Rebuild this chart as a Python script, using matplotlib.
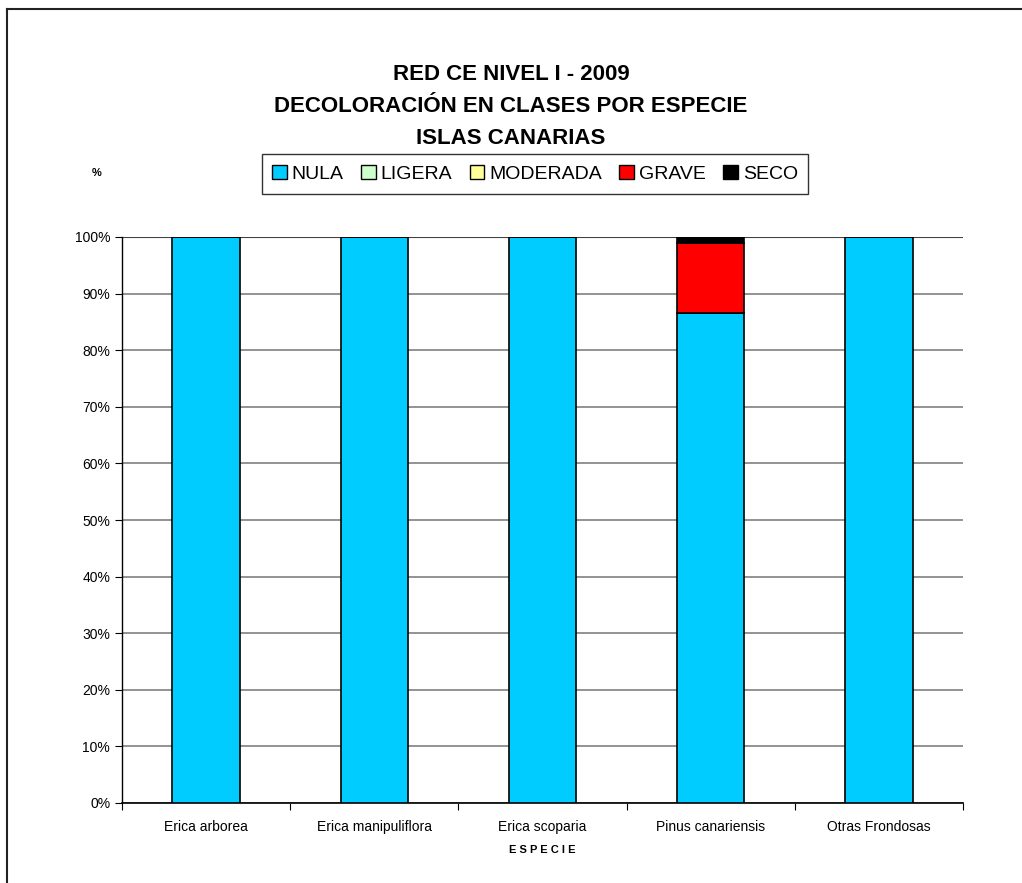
import matplotlib
matplotlib.use("Agg")
import matplotlib.pyplot as plt
from matplotlib.lines import Line2D
import numpy as np

plt.rcParams['font.family'] = ['Liberation Sans', 'DejaVu Sans']

categories = ["Erica arborea", "Erica manipuliflora", "Erica scoparia", "Pinus canariensis", "Otras Frondosas"]
series_names = ["NULA", "LIGERA", "MODERADA", "GRAVE", "SECO"]
nula = [100.0, 100.0, 100.0, 86.6, 100.0]
ligera = [0.0, 0.0, 0.0, 0.0, 0.0]
moderada = [0.0, 0.0, 0.0, 0.0, 0.0]
grave = [0.0, 0.0, 0.0, 12.3, 0.0]
seco = [0.0, 0.0, 0.0, 1.1, 0.0]
colors = ["#00CCFF", "#CCFFCC", "#FFFF99", "#FF0000", "#000000"]
yticks = [0, 10, 20, 30, 40, 50, 60, 70, 80, 90, 100]

fig = plt.figure(figsize=(10.22, 8.83), dpi=100)
ax = fig.add_axes([122/1022, 1-803/883, (963-122)/1022, (803-237)/883])

x = np.arange(len(categories))
bottom = np.zeros(len(categories))
handles = []
for name, vals, c in zip(series_names, [nula, ligera, moderada, grave, seco], colors):
    vals = np.array(vals)
    h = ax.bar(x, vals, width=0.4, bottom=bottom, color=c, edgecolor="black", linewidth=1.2, label=name, zorder=3)
    handles.append(h)
    bottom += vals

ax.set_xlim(-0.5, len(categories) - 0.5)
ax.set_ylim(0, 100)
ax.set_yticks(yticks)
ax.set_yticklabels([f"{v}%" for v in yticks], fontsize=10)
ax.yaxis.grid(True, color="#808080", linewidth=1.2, zorder=0)
ax.set_axisbelow(True)
ax.set_xticks(np.arange(-0.5, len(categories) + 0.5, 1.0), minor=False)
ax.set_xticklabels([])
ax.set_xticks(x, minor=True)
ax.set_xticklabels(categories, minor=True, fontsize=10)
ax.tick_params(axis='x', which='minor', length=0, pad=12)
ax.tick_params(axis='x', which='major', length=5, direction='out')
ax.tick_params(axis='y', length=5, direction='out')
for s in ['top', 'right']:
    ax.spines[s].set_visible(False)
ax.spines['left'].set_linewidth(1.0)
ax.spines['bottom'].set_linewidth(1.2)
ax.axhline(100, color="#404040", linewidth=1.5, zorder=1)

ax.set_xlabel("E S P E C I E", fontsize=8, fontweight='bold', labelpad=8)

fig.text(0.5, 1-75/883, "RED CE NIVEL I - 2009", ha='center', va='center', fontsize=16, fontweight='bold')
fig.text(0.5, 1-107/883, "DECOLORACIÓN EN CLASES POR ESPECIE", ha='center', va='center', fontsize=16, fontweight='bold')
fig.text(0.5, 1-139/883, "ISLAS CANARIAS", ha='center', va='center', fontsize=16, fontweight='bold')
fig.text(97/1022, 1-173/883, "%", ha='center', va='center', fontsize=8, fontweight='bold')

leg = fig.legend(handles, series_names, loc='center', bbox_to_anchor=(535/1022, 1-174/883), ncol=5,
                 frameon=True, fancybox=False, edgecolor='black', fontsize=14,
                 handlelength=0.75, handleheight=0.75, handletextpad=0.25, columnspacing=0.9,
                 borderpad=0.55)
leg.get_frame().set_linewidth(1.0)
for p in leg.get_patches():
    p.set_edgecolor('black')
    p.set_linewidth(1.0)

fig.lines.append(Line2D([7/1022, 1.0], [1-9/883, 1-9/883], transform=fig.transFigure, color='#222222', linewidth=1.5))
fig.lines.append(Line2D([7/1022, 7/1022], [0, 1-9/883], transform=fig.transFigure, color='#222222', linewidth=1.5))

fig.savefig("out.png", dpi=100)
